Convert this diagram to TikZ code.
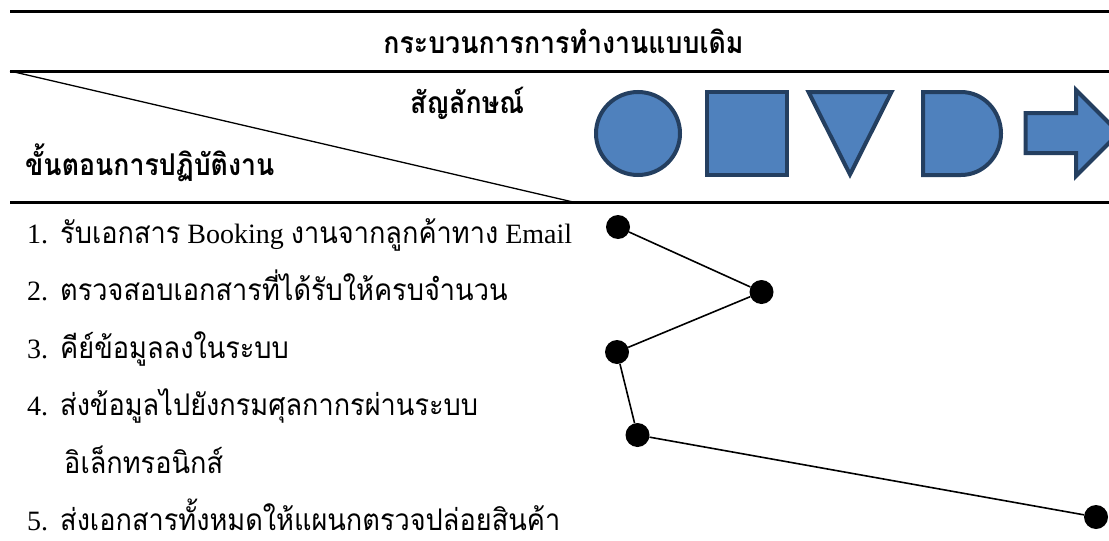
\documentclass[tikz,border=0pt]{standalone}
\usepackage{fontspec}
\setmainfont{Liberation Serif}
\newfontfamily\thai[Script=Thai,FakeStretch=0.91,Scale=1.065]{Loma}
\newfontfamily\thaihead[Script=Thai,FakeStretch=0.89,BoldFont={Loma Bold}]{Loma}
\definecolor{symfill}{HTML}{4F81BD}
\definecolor{symline}{HTML}{243F60}
\begin{document}
\begin{tikzpicture}[x=1pt,y=-1pt,
  rule/.style={line width=3pt},
  thinrule/.style={line width=1.3pt},
  sym/.style={fill=symfill,draw=symline,line width=4pt,line join=miter},
  dot/.style={circle,fill=black,minimum size=24pt,inner sep=0pt},
  link/.style={line width=1.6pt},
  txt/.style={anchor=base west,inner sep=0pt,font=\fontsize{28pt}{34pt}\selectfont},
  head/.style={inner sep=0pt,font=\fontsize{30pt}{36pt}\selectfont\thaihead\bfseries}]
\useasboundingbox (0,0) rectangle (1109,541);
\clip (0,0) rectangle (1109,541);
% rules
\coordinate (r1a) at (10,11);   \coordinate (r1b) at (1109,11);
\coordinate (r2a) at (10,71);   \coordinate (r2b) at (1109,71);
\coordinate (r3a) at (10,202);  \coordinate (r3b) at (1109,202);
\coordinate (dg) at (573,202);
\draw[rule] (r1a) -- (r1b);
\draw[rule] (r2a) -- (r2b);
\draw[rule] (r3a) -- (r3b);
\draw[thinrule] (r2a) -- (dg);
% headers
\node[head,anchor=base] (title) at (563.5,53) {กระบวนการการทำงานแบบเดิม};
\node[head,anchor=base west] (symh) at (410,113) {สัญลักษณ์};
\node[head,anchor=base west] (steph) at (25,175) {ขั้นตอนการปฏิบัติงาน};
% symbols
\draw[sym] (638,133.5) ellipse [x radius=42, y radius=41.5];
\draw[sym] (707,92) rectangle (787,175);
\draw[sym] (808.5,92) -- (891.5,92) -- (850,174.5) -- cycle;
\draw[sym] (923,92) -- (961,92) .. controls (983.1,92) and (1001,110.6) .. (1001,133.5)
  .. controls (1001,156.4) and (983.1,175) .. (961,175) -- (923,175) -- cycle;
\draw[sym] (1025.5,113) -- (1076,113) -- (1076,90) -- (1119,133) -- (1076,176) -- (1076,153) -- (1025.5,153) -- cycle;
% steps
\node[txt] (n1) at (27,243) {1.};
\node[txt] (t1) at (60,243) {{\thai รับเอกสาร} Booking {\thai งานจากลูกค้าทาง} Email};
\node[txt] (n2) at (27,300.5) {2.};
\node[txt] (t2) at (60,300.5) {\thai ตรวจสอบเอกสารที่ได้รับให้ครบจำนวน};
\node[txt] (n3) at (27,358) {3.};
\node[txt] (t3) at (60,358) {\thai คีย์ข้อมูลลงในระบบ};
\node[txt] (n4) at (27,415.5) {4.};
\node[txt] (t4) at (60,415.5) {\thai ส่งข้อมูลไปยังกรมศุลกากรผ่านระบบ};
\node[txt] (t4b) at (64,473) {\thai อิเล็กทรอนิกส์};
\node[txt] (n5) at (27,530) {5.};
\node[txt] (t5) at (60,530) {\thai ส่งเอกสารทั้งหมดให้แผนกตรวจปล่อยสินค้า};
% dots
\node[dot] (d1) at (618,227) {};
\node[dot] (d2) at (761.5,292) {};
\node[dot] (d3) at (617,352) {};
\node[dot] (d4) at (637.5,435) {};
\node[dot] (d5) at (1096,517) {};
\draw[link] (d1) -- (d2) -- (d3) -- (d4) -- (d5);
\end{tikzpicture}
\end{document}
